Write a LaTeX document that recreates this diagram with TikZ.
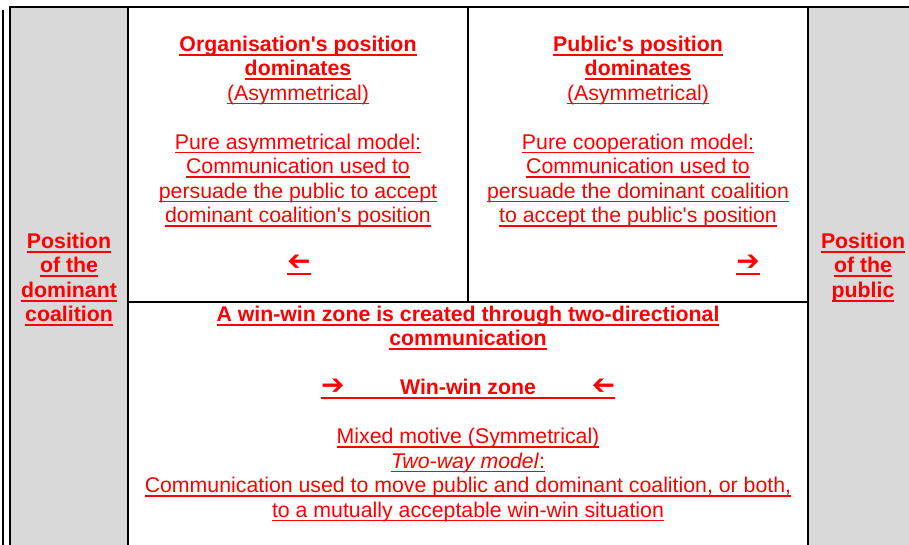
\documentclass[tikz,border=0pt]{standalone}
\usepackage{fontspec}
\usepackage{graphicx}
\setmainfont{Liberation Sans}
\newfontfamily\arrowfont{DejaVu Sans}
\usetikzlibrary{positioning}

\definecolor{panelgrey}{RGB}{217,217,217}
\definecolor{textred}{RGB}{255,0,0}

% underlined lines, plain and bold
\newcommand\redul[1]{\setbox0\hbox{#1}\rlap{\rule[-4.3pt]{\wd0}{1.7pt}}\box0}
\newcommand\redulb[1]{\setbox0\hbox{\bfseries #1}\rlap{\rule[-4.8pt]{\wd0}{2.4pt}}\box0}
\newcommand\rarrow{{\arrowfont\bfseries\fontsize{28}{28}\selectfont ➔}}
\newcommand\larrow{\reflectbox{\rarrow}}

\begin{document}
\begin{tikzpicture}[x=1pt,y=-1pt,
	cell/.style={align=center,text=textred,inner sep=0pt,font=\fontsize{21.3}{24.5}\selectfont},
	grid/.style={line width=2pt}]
	\useasboundingbox (0,0) rectangle (909,545);

	% side panels
	\fill [panelgrey] (10,7) rectangle (128,545);
	\fill [panelgrey] (808,7) rectangle (909,545);

	% table lines
	\draw [grid] (3,10) -- (3,545);
	\draw [grid] (10,545) -- (10,7) -- (909,7);
	\draw [grid] (128,7) -- (128,545);
	\draw [grid] (808,7) -- (808,545);
	\draw [grid] (468,7) -- (468,302);
	\draw [grid] (128,302) -- (808,302);

	\node (coalition) [cell,anchor=north] at (69,232.5) {
		\redulb{Position}\\ \redulb{of the}\\ \redulb{dominant}\\ \redulb{coalition}};
	\node (public) [cell,anchor=north] at (863,232.5) {
		\redulb{Position}\\ \redulb{of the}\\ \redulb{public}};

	\node (orgpos) [cell,anchor=north] at (298,35.5) {
		\redulb{Organisation\textquotesingle s position}\\ \redulb{dominates}\\ \redul{(Asymmetrical)}\\[24.5pt]
		\redul{Pure asymmetrical model:}\\ \redul{Communication used to}\\
		\redul{persuade the public to accept}\\ \redul{dominant coalition\textquotesingle s position}};
	\node (pubpos) [cell,anchor=north] at (638,35.5) {
		\redulb{Public\textquotesingle s position}\\ \redulb{dominates}\\ \redul{(Asymmetrical)}\\[24.5pt]
		\redul{Pure cooperation model:}\\ \redul{Communication used to}\\
		\redul{persuade the dominant coalition}\\ \redul{to accept the public\textquotesingle s position}};
	\node (orgarrow) [cell] at (299,265) {\redul{\larrow}};
	\node (pubarrow) [cell] at (748,265) {\redul{\rarrow}};

	\node (winwin) [cell,anchor=north] at (468,305.5) {
		\redulb{A win-win zone is created through two-directional}\\ \redulb{communication}\\[24.5pt]
		\redulb{\hbox to 294pt{\rarrow\hfil Win-win zone\hfil\larrow}}\\[24.5pt]
		\redul{Mixed motive (Symmetrical)}\\ \redul{\itshape Two-way model\/\upshape:}\\
		\redul{Communication used to move public and dominant coalition, or both,}\\
		\redul{to a mutually acceptable win-win situation}};
\end{tikzpicture}
\end{document}
